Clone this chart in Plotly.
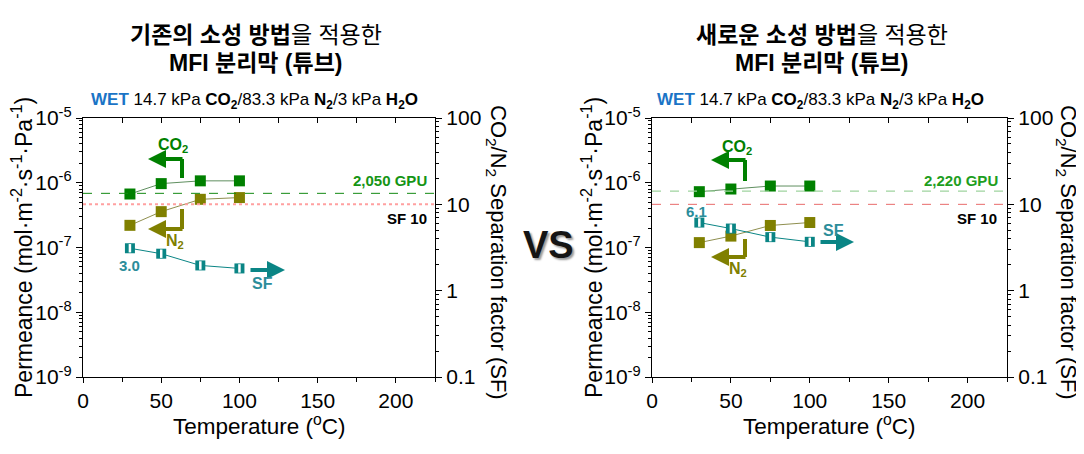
import plotly.graph_objects as go

# ---------------- data ----------------
temps = [30, 50, 75, 100]

# left: conventional calcination
left_co2 = [6.7e-7, 9.7e-7, 1.07e-6, 1.07e-6]
left_n2 = [2.2e-7, 3.58e-7, 5.55e-7, 5.9e-7]
left_sf = [3.1, 2.68, 1.96, 1.81]
left_gpu_label = "2,050 GPU"
left_gpu = 2050

# right: new calcination
right_co2 = [7.28e-7, 8.0e-7, 8.9e-7, 8.9e-7]
right_n2 = [1.19e-7, 1.5e-7, 2.19e-7, 2.43e-7]
right_sf = [6.15, 5.24, 4.17, 3.68]
right_gpu_label = "2,220 GPU"
right_gpu = 2220

GPU = 3.348e-10
sf_ref = 10

perm_tickvals = [1e-9, 1e-8, 1e-7, 1e-6, 1e-5]
perm_ticktext = ["10<sup>-9</sup>", "10<sup>-8</sup>", "10<sup>-7</sup>", "10<sup>-6</sup>", "10<sup>-5</sup>"]
sf_tickvals = [0.1, 1, 10, 100]
sf_ticktext = ["0.1", "1", "10", "100"]
x_tickvals = [0, 50, 100, 150, 200]

# ---------------- style ----------------
W, H = 1084, 454
OFF = 8  # page body margin
FONT = "Liberation Sans, Arial, Noto Sans CJK KR, sans-serif"
KFONT = "Liberation Sans, Noto Sans CJK KR, sans-serif"
C_CO2 = "#008000"
C_N2 = "#808000"
C_SF = "#0a8585"
C_SFT = "#2b8d9a"


def px(x):
    return (x - OFF) / W


def py(y):
    return 1 - (y - OFF) / H


fig = go.Figure()

# axis pixel geometry (screen pixels)
L = dict(x0=83, x1=435)
R = dict(x0=652, x1=1007)
Y0, Y1 = 118, 377


def add_series(xa, ya, ya2, co2, n2, sf):
    fig.add_trace(go.Scatter(x=temps, y=co2, xaxis=xa, yaxis=ya, mode="lines+markers",
                             line=dict(color="#5f8f5f", width=1),
                             marker=dict(symbol="square", size=11, color=C_CO2),
                             showlegend=False))
    fig.add_trace(go.Scatter(x=temps, y=n2, xaxis=xa, yaxis=ya, mode="lines+markers",
                             line=dict(color="#8f8f4f", width=1),
                             marker=dict(symbol="square", size=11, color=C_N2),
                             showlegend=False))
    fig.add_trace(go.Scatter(x=temps, y=sf, xaxis=xa, yaxis=ya2, mode="lines+markers",
                             line=dict(color=C_SF, width=1),
                             marker=dict(symbol="square", size=10, color=C_SF),
                             showlegend=False))
    fig.add_trace(go.Scatter(x=temps, y=sf, xaxis=xa, yaxis=ya2, mode="markers",
                             marker=dict(symbol="line-ns", size=6,
                                         line=dict(color="white", width=2.5)),
                             showlegend=False))


add_series("x", "y", "y2", left_co2, left_n2, left_sf)
add_series("x2", "y3", "y4", right_co2, right_n2, right_sf)
# empty traces to instantiate top mirror axes
fig.add_trace(go.Scatter(x=[], y=[], xaxis="x3", yaxis="y", showlegend=False))
fig.add_trace(go.Scatter(x=[], y=[], xaxis="x4", yaxis="y3", showlegend=False))

ydom = [py(Y1), py(Y0)]
tickfont = dict(family=FONT, size=21, color="black")

xcommon = dict(range=[0, 225], showgrid=False, zeroline=False, showline=True, linecolor="black",
               linewidth=1.3, ticks="outside", ticklen=5, tickwidth=1, tickcolor="black",
               tickvals=x_tickvals, tickfont=tickfont, automargin=False,
               minor=dict(tickvals=[25, 75, 125, 175, 225], ticks="outside", ticklen=4, tickcolor="black"))
xtop = dict(range=[0, 225], showgrid=False, zeroline=False, showline=True, linecolor="black",
            linewidth=1.3, ticks="inside", ticklen=5, tickcolor="black", dtick=25, tick0=0,
            showticklabels=False, side="top", automargin=False)
ycommon = dict(type="log", range=[-9, -5], showgrid=False, zeroline=False, showline=True,
               linecolor="black", linewidth=1.3, ticks="outside", ticklen=6, tickcolor="black",
               tickvals=perm_tickvals, ticktext=perm_ticktext, tickfont=tickfont, automargin=False,
               minor=dict(ticks="outside", ticklen=3, tickcolor="black", dtick="D1"))
y2common = dict(type="log", range=[-1, 2], showgrid=False, zeroline=False, showline=True,
                linecolor="black", linewidth=1.3, ticks="outside", ticklen=6, tickcolor="black",
                tickvals=sf_tickvals, ticktext=sf_ticktext, tickfont=tickfont, side="right",
                automargin=False,
                minor=dict(ticks="outside", ticklen=3, tickcolor="black", dtick="D1"))

fig.update_layout(
    width=W, height=H, margin=dict(l=0, r=0, t=0, b=0, autoexpand=False),
    paper_bgcolor="white", plot_bgcolor="white",
    showlegend=False,
    xaxis=dict(domain=[px(L["x0"]), px(L["x1"])], anchor="y", **xcommon),
    xaxis3=dict(overlaying="x", anchor="y", **xtop),
    yaxis=dict(domain=ydom, anchor="x", **ycommon),
    yaxis2=dict(overlaying="y", anchor="x", **y2common),
    xaxis2=dict(domain=[px(R["x0"]), px(R["x1"])], anchor="y3", **xcommon),
    xaxis4=dict(overlaying="x2", anchor="y3", **xtop),
    yaxis3=dict(domain=ydom, anchor="x2", **ycommon),
    yaxis4=dict(overlaying="y3", anchor="x2", **y2common),
)

# reference lines
fig.add_shape(type="line", xref="x domain", yref="y", x0=0, x1=1, y0=left_gpu * GPU, y1=left_gpu * GPU,
              line=dict(color="#138a13", width=1, dash="dash"))
fig.add_shape(type="line", xref="x domain", yref="y2", x0=0, x1=1, y0=sf_ref, y1=sf_ref,
              line=dict(color="#ffa0a0", width=2, dash="dot"))
fig.add_shape(type="line", xref="x2 domain", yref="y3", x0=0, x1=1, y0=right_gpu * GPU, y1=right_gpu * GPU,
              line=dict(color="#9fd49f", width=1.3, dash="dash"))
fig.add_shape(type="line", xref="x2 domain", yref="y4", x0=0, x1=1, y0=sf_ref, y1=sf_ref,
              line=dict(color="#e86a6a", width=1, dash="dash"))

annots = []


def text(x, y, s, size=15, color="black", anchor="center", angle=0, family=FONT, **kw):
    d = dict(x=px(x), y=py(y), xref="paper", yref="paper", text=s, showarrow=False,
             xanchor=anchor, yanchor="middle", textangle=angle,
             font=dict(family=family, size=size, color=color))
    d.update(kw)
    annots.append(d)


def bent_arrow(xv, yv0, yv1, tipx, color):
    # vertical segment from (xv, yv0) to (xv, yv1); horizontal from (xv, yv1) to tip
    fig.add_shape(type="line", xref="paper", yref="paper", x0=px(xv), x1=px(xv), y0=py(yv0), y1=py(yv1),
                  line=dict(color=color, width=4))
    annots.append(dict(x=px(tipx), y=py(yv1), xref="paper", yref="paper", text="", showarrow=True,
                       ax=xv + 2 - tipx, ay=0, axref="pixel", ayref="pixel", arrowhead=2, arrowsize=0.9,
                       arrowwidth=4, arrowcolor=color, standoff=0))


def straight_arrow(x0, x1, y, color):
    annots.append(dict(x=px(x1), y=py(y), xref="paper", yref="paper", text="", showarrow=True,
                       ax=x0 - x1, ay=0, axref="pixel", ayref="pixel", arrowhead=2, arrowsize=0.9,
                       arrowwidth=4, arrowcolor=color, standoff=0))


# ---- titles ----
for cx, head in [(256, "기존의 소성 방법"), (822, "새로운 소성 방법")]:
    text(cx, 35, f"<b>{head}</b>을 적용한", size=23, family=KFONT)
    text(cx, 63, "<b>MFI 분리막 (튜브)</b>", size=23, family=KFONT)
    text(cx - 2, 101,
         "<b><span style='color:#1a74c6'>WET</span></b> 14.7 kPa <b>CO<sub>2</sub></b>/83.3 kPa "
         "<b>N<sub>2</sub></b>/3 kPa <b>H<sub>2</sub>O</b>", size=17)

# ---- axis titles ----
for lx, rx, cx in [(22, 497, 259), (592, 1067, 829)]:
    text(lx, 248, "Permeance (mol·m<sup>-2</sup>·s<sup>-1</sup>·Pa<sup>-1</sup>)", size=23, angle=-90)
    text(rx, 252, "CO<sub>2</sub>/N<sub>2</sub> Separation factor (SF)", size=22, angle=90)
    text(cx, 425, "Temperature (<sup>o</sup>C)", size=22.5)

# ---- left panel decorations ----
bent_arrow(182, 178, 159, 148, C_CO2)
text(173, 146, "<b>CO<sub>2</sub></b>", size=16, color=C_CO2)
bent_arrow(182, 209, 229, 148, C_N2)
text(175, 241, "<b>N<sub>2</sub></b>", size=16, color=C_N2)
straight_arrow(249, 285, 270, C_SF)
text(262, 283, "<b>SF</b>", size=16, color=C_SFT)
text(129, 265, "<b>3.0</b>", size=15, color=C_SFT)
text(429, 181, f"<b>{left_gpu_label}</b>", size=15, color="#159515", anchor="right")
text(429, 218, "<b>SF 10</b>", size=15, color="black", anchor="right")

# ---- right panel decorations ----
bent_arrow(745, 181, 160, 711, C_CO2)
text(737, 148, "<b>CO<sub>2</sub></b>", size=16, color=C_CO2)
bent_arrow(745, 239, 257, 711, C_N2)
text(738, 269, "<b>N<sub>2</sub></b>", size=16, color=C_N2)
straight_arrow(819, 854, 242, C_SF)
text(833, 230, "<b>SF</b>", size=16, color=C_SFT)
text(696, 211, "<b>6.1</b>", size=15, color=C_SFT)
text(1000, 181, f"<b>{right_gpu_label}</b>", size=15, color="#1e9e1e", anchor="right")
text(999, 218, "<b>SF 10</b>", size=15, color="black", anchor="right")

# ---- VS ----
text(548, 245, "<b>VS</b>", size=38, color="#151515",
     font=dict(family=FONT, size=38, color="#151515", shadow="2px 2px 2px #9a9a9a"))

fig.update_layout(annotations=annots)
fig.write_html("out.html")
